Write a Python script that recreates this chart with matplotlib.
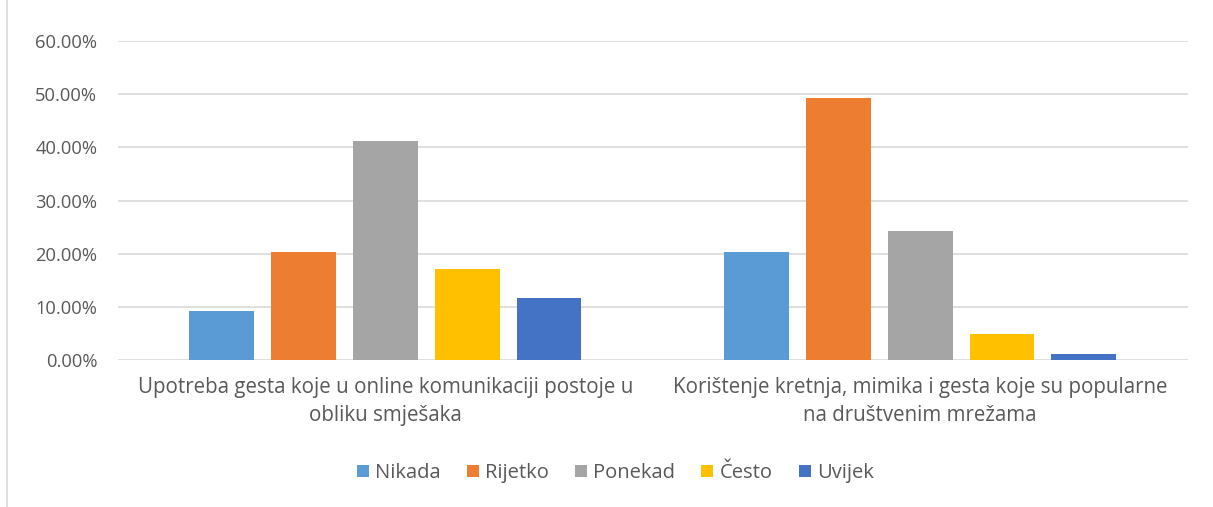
import matplotlib.pyplot as plt
import numpy as np
from matplotlib.ticker import PercentFormatter
from matplotlib.patches import Rectangle

plt.rcParams['font.family'] = ['Open Sans', 'DejaVu Sans']

categories = ['Upotreba gesta koje u online komunikaciji postoje u\nobliku smješaka',
              'Korištenje kretnja, mimika i gesta koje su popularne\nna društvenim mrežama']
series = ['Nikada', 'Rijetko', 'Ponekad', 'Često', 'Uvijek']
values = {
    'Nikada': [9.3, 20.25],
    'Rijetko': [20.25, 49.3],
    'Ponekad': [41.25, 24.3],
    'Često': [17.2, 4.8],
    'Uvijek': [11.6, 1.1],
}
colors = ['#5b9bd5', '#ed7d31', '#a5a5a5', '#ffc000', '#4472c4']
txt = '#595959'

fig = plt.figure(figsize=(12.13, 5.07), dpi=100)
ax = fig.add_axes([0.0973, 0.29, 0.8817, 0.629])

x = np.arange(len(categories))
step = 0.153
width = 0.121
for i, s in enumerate(series):
    ax.bar(x + (i - 2) * step, values[s], width, color=colors[i], label=s, zorder=3)

ax.set_xlim(-0.5, 1.5)
ax.set_ylim(0, 60)
ax.set_yticks(np.arange(0, 61, 10))
ax.yaxis.set_major_formatter(PercentFormatter(decimals=2))
ax.grid(axis='y', color='#d9d9d9', linewidth=1.2, zorder=0)
for sp in ax.spines.values():
    sp.set_visible(False)
ax.tick_params(axis='y', length=0, pad=15, labelsize=13.2, labelcolor=txt)
ax.tick_params(axis='x', length=0, pad=12, labelsize=14.8, labelcolor=txt)
ax.set_xticks(x)
ax.set_xticklabels(categories, linespacing=1.45)

ax.legend(loc='center', bbox_to_anchor=(0.465, -0.355), ncol=5, frameon=False,
          fontsize=14.5, labelcolor=txt, handlelength=0.6, handleheight=0.6,
          handletextpad=0.3, columnspacing=1.3)

fig.patches.append(Rectangle((0.006, -0.01), 1.2, 1.2, transform=fig.transFigure,
                             fill=False, edgecolor='#d9d9d9', linewidth=1.2))

plt.savefig('out.png')
